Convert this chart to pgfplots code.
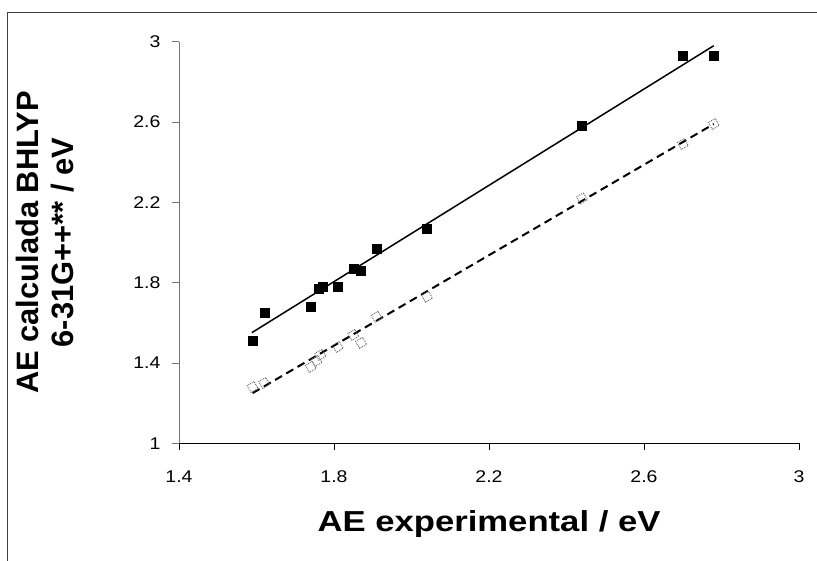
\documentclass[border=0pt]{standalone}
\usepackage{fontspec}
\setmainfont{Liberation Sans}
\usepackage{graphicx}
\usepackage{pgfplots}
\pgfplotsset{compat=1.18}

\begin{document}
\begin{tikzpicture}[x=1bp,y=1bp]
\useasboundingbox (0,0) rectangle (817,561);
% chart area border (cut off at right and bottom)
\draw[black!75, line width=1bp] (7.5,0) -- (7.5,548.5) -- (817,548.5);
\begin{axis}[
  at={(179bp,117.7bp)}, anchor=south west,
  scale only axis, width=620bp, height=401.6bp,
  xmin=1.4, xmax=3, ymin=1, ymax=3,
  xtick={1.4,1.8,2.2,2.6,3}, ytick={1,1.4,1.8,2.2,2.6,3},
  axis x line*=bottom, axis y line*=left,
  axis line style={-},
  x axis line style={black, line width=1bp},
  y axis line style={black!55, line width=1bp},
  tick align=outside, major tick length=7bp,
  xtick style={black, line width=0.8bp},
  ytick style={black!55, line width=0.8bp},
  /pgf/number format/assume math mode=true,
  tick label style={font=\fontsize{17}{17}\selectfont},
  xticklabel={\scalebox{1.15}[1]{\pgfmathprintnumber{\tick}}},
  yticklabel={\scalebox{1.15}[1]{\pgfmathprintnumber{\tick}}},
  xticklabel style={yshift=-17bp},
  yticklabel style={xshift=-8bp},
  xlabel={\scalebox{1.2}[1]{AE experimental / eV}},
  xlabel style={font=\fontsize{29}{29}\selectfont\bfseries,
    at={(axis description cs:0.5,-0.2201)}, anchor=base},
  ylabel={AE calculada BHLYP\\6-31G++** / eV},
  ylabel style={font=\fontsize{31}{35}\selectfont\bfseries, align=center,
    at={(axis description cs:-0.2161,0.5)}, anchor=center},
  clip=false
]
% BHLYP 6-31G++** values
\addplot[only marks, mark=square*, mark size=4.5bp, black] coordinates {
  (1.59,1.51) (1.62,1.65) (1.74,1.68) (1.76,1.77) (1.77,1.78) (1.81,1.78)
  (1.85,1.87) (1.87,1.86) (1.91,1.97) (2.04,2.07) (2.44,2.58) (2.70,2.93)
  (2.78,2.93)};
\addplot[black, line width=1.5bp] coordinates {(1.588,1.551) (2.78,2.98)};
% second set (open markers)
\addplot[only marks, mark=square, mark size=4bp,
  mark options={rotate=30, draw=black!60, densely dotted, fill=white, line width=0.9bp}]
  coordinates {
  (1.59,1.28) (1.62,1.30) (1.74,1.38) (1.755,1.41) (1.765,1.44) (1.81,1.48)
  (1.85,1.54) (1.87,1.50) (1.91,1.63) (2.04,1.73) (2.44,2.22) (2.70,2.49)
  (2.78,2.59)};
\addplot[black, line width=2bp, dash pattern=on 8bp off 5bp] coordinates {(1.59,1.25) (2.78,2.59)};
\end{axis}
\end{tikzpicture}
\end{document}
